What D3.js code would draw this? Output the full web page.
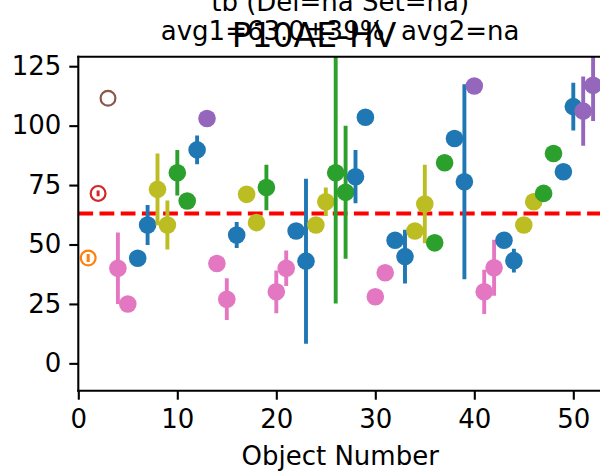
<!DOCTYPE html>
<html>
<head>
<meta charset="utf-8">
<script src="https://cdn.jsdelivr.net/npm/d3@7"></script>
<style>
  html, body { margin: 0; padding: 0; background: #fff; }
  svg { display: block; font-family: "DejaVu Sans", sans-serif; }
</style>
</head>
<body>
<svg id="chart" width="600" height="472"></svg>
<script>
// ---- data ----
const objects = d3.range(1, 53);
const values = [44.3, 71.5, 111.5, 40, 25, 44.2, 58.2, 73.2, 58.2, 80.2,
                68.3, 89.8, 103, 42, 27, 54, 71.1, 59.2, 74, 30.1,
                40, 55.7, 43, 58.2, 68, 80.2, 72, 78.5, 103.5, 28,
                38.1, 51.8, 44.9, 55.7, 67, 50.7, 84.4, 94.6, 76.4, 116.7,
                30.1, 40.2, 51.8, 43.2, 58.2, 68, 71.5, 88.3, 80.6, 108,
                106.1, 117];
const errors = [1.7, 1.2, 0, 15, 0, 0, 8.4, 15.1, 10.3, 9.6,
                0, 6, 0, 0, 8.8, 5.5, 0, 0, 9.6, 9,
                7.5, 0, 34.7, 0, 6, 55, 28, 11.2, 0, 0,
                0, 0, 11.3, 0, 16.5, 0, 0, 0, 41, 0,
                9.3, 11.8, 0, 5, 0, 0, 0, 0, 0, 10,
                14.6, 15];
const groups = ["orange", "red", "brown", "pink", "pink", "blue", "blue", "olive", "olive", "green",
                "green", "blue", "purple", "pink", "pink", "blue", "olive", "olive", "green", "pink",
                "pink", "blue", "blue", "olive", "olive", "green", "green", "blue", "blue", "pink",
                "pink", "blue", "blue", "olive", "olive", "green", "green", "blue", "blue", "purple",
                "pink", "pink", "blue", "blue", "olive", "olive", "green", "green", "blue", "blue",
                "purple", "purple"];
const hollow = [true, true, true];  // first three objects drawn as open circles
const avg1 = 63.0;
const xTicks = [0, 10, 20, 30, 40, 50];
const yTicks = [0, 25, 50, 75, 100, 125];
const titleLine1 = "tb (Del=na Set=na)";
const titleLine2 = "avg1=63.0±39%  avg2=na";
const supTitle = "P10AE-HV";
const xLabel = "Object Number";

const palette = {
  blue: "#1f77b4", orange: "#ff7f0e", green: "#2ca02c", red: "#d62728",
  purple: "#9467bd", brown: "#8c564b", pink: "#e377c2", olive: "#bcbd22"
};

const points = objects.map((o, i) => ({
  x: o, y: values[i], e: errors[i], c: palette[groups[i]], open: !!hollow[i]
}));

// ---- layout ----
const svg = d3.select("#chart");
const pL = 78.3, pR = 603, pT = 56.7, pB = 390.7;
const x = d3.scaleLinear().domain([0, 53]).range([pL, pR]);
const y = d3.scaleLinear().domain([-11.5, 129]).range([pB, pT]);

svg.append("defs").append("clipPath").attr("id", "clip")
  .append("rect").attr("x", pL).attr("y", pT)
  .attr("width", pR - pL).attr("height", pB - pT);

const plot = svg.append("g").attr("clip-path", "url(#clip)");

// average line
plot.append("line")
  .attr("x1", pL).attr("x2", pR)
  .attr("y1", y(avg1)).attr("y2", y(avg1))
  .attr("stroke", "#ff0000").attr("stroke-width", 4)
  .attr("stroke-dasharray", "14.8,6.4");

// points with error bars
points.forEach(p => {
  if (p.e > 0) {
    plot.append("line")
      .attr("x1", x(p.x)).attr("x2", x(p.x))
      .attr("y1", y(p.y - p.e)).attr("y2", y(p.y + p.e))
      .attr("stroke", p.c).attr("stroke-width", p.open ? 3 : 3.9);
  }
  if (p.open) {
    plot.append("circle")
      .attr("cx", x(p.x)).attr("cy", y(p.y)).attr("r", 7.4)
      .attr("fill", "none").attr("stroke", p.c).attr("stroke-width", 2.2);
  } else {
    plot.append("circle")
      .attr("cx", x(p.x)).attr("cy", y(p.y)).attr("r", 8.8)
      .attr("fill", p.c);
  }
});

// axes
const xAxis = d3.axisBottom(x).tickValues(xTicks).tickSize(9).tickPadding(8).tickFormat(d3.format("d"));
const yAxis = d3.axisLeft(y).tickValues(yTicks).tickSize(9).tickPadding(8).tickFormat(d3.format("d"));

const gx = svg.append("g").attr("transform", `translate(0,${pB})`).call(xAxis);
const gy = svg.append("g").attr("transform", `translate(${pL},0)`).call(yAxis);
[gx, gy].forEach(g => {
  g.select(".domain").remove();
  g.selectAll(".tick line").attr("stroke", "#000").attr("stroke-width", 2.1);
  g.selectAll(".tick text").attr("fill", "#000")
    .style("font-family", "DejaVu Sans").style("font-size", "26px");
});
gx.selectAll(".tick text").attr("dy", "0.78em");

// spines
svg.append("line").attr("x1", pL).attr("x2", pL).attr("y1", pT).attr("y2", pB)
  .attr("stroke", "#000").attr("stroke-width", 2.1).attr("stroke-linecap", "square");
svg.append("line").attr("x1", pL).attr("x2", pR).attr("y1", pB).attr("y2", pB)
  .attr("stroke", "#000").attr("stroke-width", 2.1).attr("stroke-linecap", "square");
svg.append("line").attr("x1", pL).attr("x2", pR).attr("y1", pT).attr("y2", pT)
  .attr("stroke", "#000").attr("stroke-width", 2.1).attr("stroke-linecap", "square");

// titles
const tcx = (pL + pR) / 2 - 0.5;
svg.append("text").attr("x", tcx).attr("y", 11).attr("text-anchor", "middle")
  .style("font-size", "26px").text(titleLine1);
svg.append("text").attr("x", tcx).attr("y", 40).attr("text-anchor", "middle")
  .style("font-size", "26px").style("white-space", "pre").attr("xml:space", "preserve").text(titleLine2);
svg.append("text").attr("x", 314).attr("y", 47).attr("text-anchor", "middle")
  .style("font-size", "33px").text(supTitle);

// x label
svg.append("text").attr("x", tcx).attr("y", 465).attr("text-anchor", "middle")
  .style("font-size", "26px").text(xLabel);
</script>
</body>
</html>
